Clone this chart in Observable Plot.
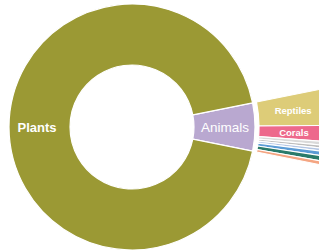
<!DOCTYPE html>
<html><head><meta charset="utf-8">
<script src="https://cdn.jsdelivr.net/npm/d3@7"></script>
<script src="https://cdn.jsdelivr.net/npm/@observablehq/plot@0.6"></script>
<style>body{margin:0;background:#fff;overflow:hidden}</style>
</head><body><div id="chart"></div>
<script>
// Inner ring: kingdoms
const kingdoms = ["Animals", "Plants"];
const kingdomValues = [6.3, 93.7];
const kingdomColors = ["#b9a8d0", "#9b9934"];
// Outer ring: breakdown of Animals (only the first two are labelled)
const animalGroups = ["Reptiles", "Corals", "Group 3", "Group 4", "Group 5", "Group 6", "Group 7", "Group 8"];
const animalValues = [48, 21, 5, 4, 4, 6, 7, 5];
const animalColors = ["#ddcc78", "#ed698c", "#d9d9d9", "#bdbdbd", "#b4c6e4", "#5b9bd5", "#2a7a6a", "#f4a582"];
const labelledGroups = ["Reptiles", "Corals"];

// layout (pixels)
const W = 319, H = 251, cx = 132, cy = 127;
const r0 = 62, r1 = 123, r2 = 127, r3 = 196;

const totalK = d3.sum(kingdomValues);
const animalSpan = 2 * Math.PI * kingdomValues[0] / totalK;
const start = Math.PI / 2 - animalSpan / 2;

const innerPie = d3.pie().sort(null).startAngle(start).endAngle(start + 2 * Math.PI)(kingdomValues);
const outerPie = d3.pie().sort(null).startAngle(start).endAngle(start + animalSpan)(animalValues);

const inner = innerPie.map((p, i) => ({name: kingdoms[i], color: kingdomColors[i], p, r0, r1}));
const outer = outerPie.map((p, i) => ({name: animalGroups[i], color: animalColors[i], p, r0: r2, r1: r3}));
const allArcs = inner.concat(outer);

function centroid(a) {
  const c = d3.arc().innerRadius(a.r0).outerRadius(a.r1).centroid(a.p);
  return {name: a.name, x: cx + c[0], y: cy + c[1]};
}

function arcsMark(...args) {
  const scales = args.find(a => a && typeof a === "object" && typeof a.x === "function" && typeof a.y === "function");
  const X = scales.x(cx), Y = scales.y(cy);
  const k = scales.x(cx + 100) - scales.x(cx);
  const g = d3.create("svg:g").attr("transform", `translate(${X},${Y})`);
  g.selectAll("path").data(allArcs).join("path")
    .attr("d", a => d3.arc().innerRadius(a.r0 * k / 100).outerRadius(a.r1 * k / 100)(a.p))
    .attr("fill", a => a.color)
    .attr("stroke", "#fff")
    .attr("stroke-width", 1.2)
    .attr("stroke-linejoin", "round");
  return g.node();
}

const plantsLabel = [centroid(inner[1])];
const animalsLabel = [centroid(inner[0])];
const groupLabels = outer.filter(a => labelledGroups.includes(a.name)).map(centroid);

const chart = Plot.plot({
  width: W, height: H, margin: 0,
  style: {fontFamily: "'Liberation Sans', Arial, sans-serif", background: "#fff"},
  x: {domain: [0, W], range: [0, W], axis: null},
  y: {domain: [0, H], range: [0, H], axis: null},
  marks: [
    arcsMark,
    Plot.text(plantsLabel, {x: "x", y: "y", text: "name", fill: "white", fontSize: 13, fontWeight: "bold", dx: -3}),
    Plot.text(animalsLabel, {x: "x", y: "y", text: "name", fill: "white", fontSize: 13.5}),
    Plot.text(groupLabels, {x: "x", y: "y", text: "name", fill: "white", fontSize: 9.5, fontWeight: "bold"})
  ]
});
document.getElementById("chart").appendChild(chart);
</script>
</body></html>
